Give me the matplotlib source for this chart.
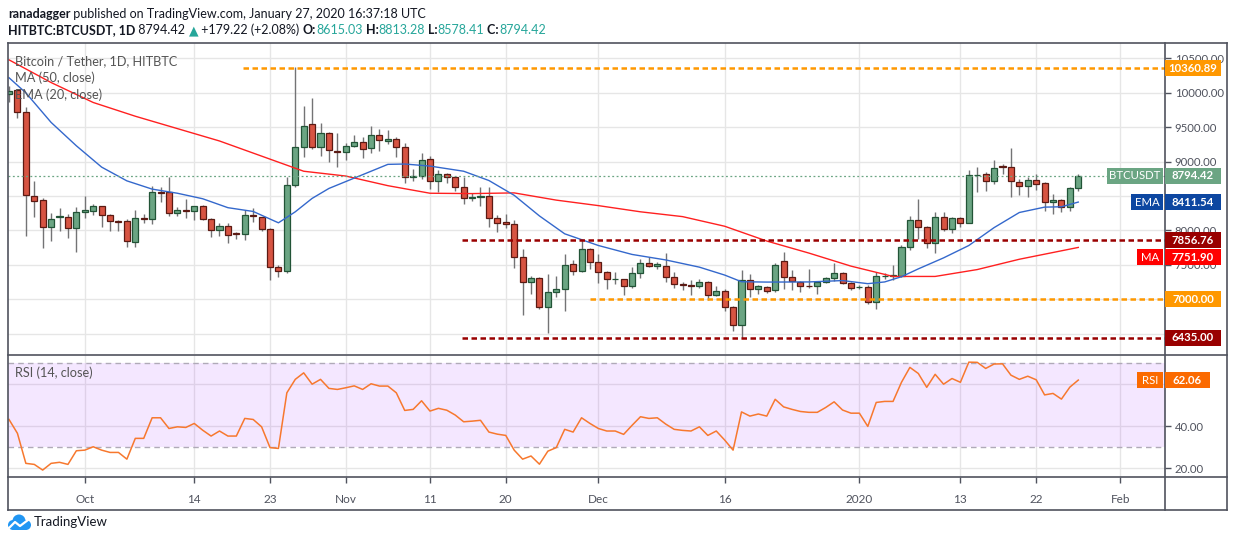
import matplotlib
import matplotlib.dates as mdates
import matplotlib.pyplot as plt
import matplotlib.transforms as mtransforms
import pandas as pd
from matplotlib.lines import Line2D
from matplotlib.patches import Circle, Rectangle

matplotlib.use("Agg")

W, H = 1234, 541
FONTS = ["Lato", "DejaVu Sans"]
plt.rcParams["font.family"] = FONTS

# ---- data --------------------------------------------------------------
dates = pd.date_range("2019-09-22", "2020-01-27", freq="D")

opens = [
    9990, 10036, 9715, 8500, 8445, 8050, 8190, 8200, 8040,
    8270, 8285, 8357, 8226, 8135, 8140, 7832, 8182, 8168, 8562,
    8562, 8255, 8290, 8285, 8357, 8168, 8007, 8066, 7955, 7949,
    8226, 8197, 8022, 7467, 7408, 8664, 9219, 9540, 9219, 9423, 9155,
    9146, 9234, 9292, 9204, 9394, 9306, 9336, 9219, 8781, 8796,
    9044, 8723, 8825, 8781, 8635, 8474, 8489, 8503, 8182, 8124,
    8095, 7613, 7248, 7307, 6883, 7102, 7146, 7511, 7409, 7730,
    7540, 7394, 7290, 7292, 7190, 7380, 7525, 7482, 7482, 7321,
    7219, 7204, 7190, 7248, 7058, 7117, 6883, 6620, 7277, 7146,
    7175, 7131, 7555, 7321, 7248, 7195, 7190, 7248, 7307, 7380, 7234,
    7170, 7180, 6956, 7330, 7340, 7336, 7759, 8153, 8051, 7818,
    8197, 8022, 8182, 8109, 8800, 8825, 8723, 8930, 8927, 8708,
    8650, 8737, 8693, 8416, 8445, 8343, 8615.03,
]
highs = [
    10095, 10060, 9800, 8720, 8475, 8255, 8330, 8240, 8345,
    8500, 8390, 8360, 8240, 8155, 8170, 8300, 8240, 8650, 8635,
    8780, 8345, 8460, 8360, 8372, 8182, 8110, 8110, 7978, 8300,
    8328, 8200, 8036, 7496, 8781, 10380, 9803, 9920, 9555, 9430, 9409,
    9277, 9380, 9365, 9525, 9467, 9453, 9365, 9277, 8898, 9131,
    9088, 8883, 8839, 8790, 8781, 8547, 8635, 8635, 8226, 8241,
    8153, 7730, 7336, 7321, 7365, 7336, 7657, 7569, 7861, 7745,
    7657, 7409, 7394, 7300, 7467, 7584, 7613, 7540, 7672, 7394,
    7248, 7277, 7292, 7260, 7190, 7146, 6900, 7423, 7365, 7204,
    7190, 7525, 7686, 7423, 7263, 7438, 7263, 7321, 7525, 7394, 7248,
    7204, 7204, 7394, 7380, 7496, 7788, 8212, 8460, 8060, 8270,
    8270, 8197, 8197, 8883, 8927, 8854, 9029, 8971, 9204, 8752,
    8781, 8825, 8700, 8533, 8460, 8635, 8813.28,
]
lows = [
    9860, 9640, 7920, 8200, 7745, 7850, 7995, 7890, 7690,
    8180, 8220, 8050, 7995, 7995, 7760, 7760, 8110, 8095, 8415,
    8210, 8210, 8180, 8155, 8150, 7905, 7920, 7818, 7876, 7862,
    8124, 7993, 7280, 7321, 7380, 8635, 9073, 9190, 9088, 9000, 8927,
    9029, 9219, 9058, 9131, 9161, 9263, 9073, 8693, 8723, 8752,
    8606, 8562, 8693, 8577, 8387, 8431, 8358, 8051, 7978, 8036,
    7453, 6766, 7073, 6854, 6504, 7029, 6825, 7350, 7400, 7438,
    7234, 7146, 7219, 7058, 7160, 7307, 7467, 7440, 7248, 7160,
    7131, 7058, 7160, 6985, 7044, 6825, 6533, 6431, 7029, 7073,
    7088, 7102, 7146, 7131, 7102, 7160, 7073, 7234, 7263, 7219, 7140,
    7150, 6927, 6854, 7292, 7277, 7321, 7715, 7876, 7745, 7672,
    7993, 7963, 8051, 8100, 8562, 8577, 8679, 8825, 8489, 8518,
    8489, 8591, 8285, 8241, 8270, 8285, 8578.41,
]
closes = [
    10030, 9715, 8520, 8430, 8050, 8170, 8210, 8040, 8270,
    8290, 8357, 8226, 8140, 8120, 7847, 8182, 8165, 8562, 8545,
    8255, 8300, 8275, 8357, 8168, 8007, 8066, 7934, 7945, 8226,
    8212, 8022, 7467, 7408, 8664, 9219, 9525, 9219, 9409, 9175, 9140,
    9234, 9292, 9190, 9394, 9321, 9336, 9219, 8781, 8796, 9029,
    8723, 8825, 8781, 8635, 8474, 8489, 8503, 8182, 8109, 8095,
    7613, 7248, 7307, 6883, 7102, 7146, 7496, 7409, 7730, 7540,
    7394, 7292, 7295, 7190, 7380, 7525, 7482, 7511, 7321, 7219,
    7204, 7190, 7248, 7058, 7117, 6883, 6620, 7277, 7146, 7190,
    7117, 7496, 7321, 7263, 7190, 7185, 7248, 7307, 7380, 7234, 7160,
    7180, 6956, 7336, 7340, 7350, 7759, 8153, 8051, 7818, 8197,
    8022, 8182, 8109, 8810, 8812, 8723, 8912, 8922, 8723, 8650,
    8737, 8679, 8416, 8445, 8343, 8615, 8794.42,
]
rsi = [
    43.3, 36.7, 22.4, 21.9, 19.2, 22.4, 22.9, 21.9, 28.4,
    28.7, 30.3, 28.7, 27.6, 27.6, 24.4, 34.3, 34.3, 44.1, 44.1,
    39.0, 39.8, 39.5, 41.4, 38.2, 35.4, 37.8, 35.4, 35.4, 43.8,
    43.3, 39.8, 29.9, 29.5, 56.0, 62.4, 65.5, 60.1, 62.4, 58.1, 57.6,
    58.4, 59.3, 57.6, 60.3, 59.2, 59.2, 56.0, 47.6, 48.1, 52.2,
    47.3, 48.6, 47.7, 45.4, 42.2, 42.5, 42.9, 37.3, 36.3, 35.7,
    28.7, 24.4, 25.9, 22.0, 28.2, 29.9, 38.6, 37.3, 44.1, 41.4,
    39.0, 37.8, 37.8, 36.2, 40.5, 44.6, 43.8, 44.1, 41.1, 38.6,
    38.1, 37.8, 39.8, 35.7, 37.8, 33.5, 28.7, 46.9, 44.9, 45.9,
    44.9, 52.9, 49.3, 48.1, 47.1, 46.7, 46.7, 49.0, 51.7, 47.8, 46.3,
    46.3, 40.0, 51.4, 51.9, 51.9, 61.0, 68.1, 65.2, 58.6, 64.8,
    60.1, 62.8, 61.0, 70.6, 70.5, 67.6, 69.7, 69.8, 64.4, 62.4,
    63.9, 62.2, 55.0, 55.7, 53.0, 58.7, 62.06,
]

ma50_days = ["2019-09-22", "2019-09-27", "2019-10-02", "2019-10-07", "2019-10-12",
             "2019-10-17", "2019-10-22", "2019-10-27", "2019-11-01", "2019-11-06",
             "2019-11-11", "2019-11-16", "2019-11-21", "2019-11-26", "2019-12-01",
             "2019-12-06", "2019-12-11", "2019-12-16", "2019-12-21", "2019-12-26",
             "2019-12-31", "2020-01-05", "2020-01-10", "2020-01-15", "2020-01-20",
             "2020-01-27"]
ma50_vals = [10480, 10150, 9860, 9660, 9480, 9300, 9080, 8860, 8790, 8650,
             8540, 8535, 8545, 8440, 8360, 8270, 8200, 8060, 7845, 7670,
             7480, 7330, 7330, 7430, 7580, 7751.90]

ema20_days = ["2019-09-22", "2019-09-24", "2019-09-27", "2019-09-30", "2019-10-03",
              "2019-10-06", "2019-10-09", "2019-10-12", "2019-10-15", "2019-10-18",
              "2019-10-21", "2019-10-24", "2019-10-26", "2019-10-28", "2019-10-30",
              "2019-11-02", "2019-11-06", "2019-11-08", "2019-11-11", "2019-11-15",
              "2019-11-18", "2019-11-21", "2019-11-24", "2019-11-27", "2019-12-01",
              "2019-12-05", "2019-12-09", "2019-12-13", "2019-12-16", "2019-12-18",
              "2019-12-21", "2019-12-26", "2019-12-30", "2020-01-02", "2020-01-04",
              "2020-01-06", "2020-01-08", "2020-01-11", "2020-01-14", "2020-01-17",
              "2020-01-20", "2020-01-23", "2020-01-25", "2020-01-27"]
ema20_vals = [10220, 10000, 9570, 9230, 8920, 8720, 8600, 8540, 8460, 8330,
              8275, 8110, 8270, 8465, 8610, 8760, 8960, 8965, 8935, 8860,
              8725, 8510, 8210, 7950, 7780, 7650, 7570, 7465, 7350, 7253,
              7248, 7250, 7270, 7225, 7250, 7326, 7440, 7600, 7780, 8040,
              8260, 8338, 8343, 8411.54]

# horizontal levels: value, first day drawn, colour
levels = [
    (10360.89, "2019-10-19 19:00", "#ff9800"),
    (7856.76, "2019-11-14 19:00", "#990000"),
    (7000.00, "2019-11-29 23:00", "#ff9800"),
    (6435.00, "2019-11-14 19:00", "#990000"),
]

tick_dates = ["2019-10-01", "2019-10-14", "2019-10-23", "2019-11-01", "2019-11-11",
              "2019-11-20", "2019-12-01", "2019-12-16", "2020-01-01", "2020-01-13",
              "2020-01-22", "2020-02-01"]
tick_labels = ["Oct", "14", "23", "Nov", "11", "20", "Dec", "16", "2020", "13", "22", "Feb"]
price_ticks = [6500, 7000, 7500, 8000, 8500, 9000, 9500, 10000, 10500]
price_hidden = [6500, 7000, 8500]  # sit fully under the price tags
rsi_ticks = [20, 40, 60]
rsi_hidden = [60]

# ---- styling ------------------------------------------------------------
FRAME = "#50535e"
GRID = "#e6e6e6"
AXTXT = "#50535e"
UP, UP_EDGE = "#6ba583", "#225437"
DOWN, DOWN_EDGE = "#d75442", "#5b1a13"
WICK = "#737375"

fig = plt.figure(figsize=(W / 100, H / 100), dpi=100)
fig.patch.set_facecolor("white")


def add_px_axes(left, top, right, bottom):
    return fig.add_axes([left / W, 1 - bottom / H, (right - left) / W, (bottom - top) / H])


def frame_line(x0, y0, x1, y1, lw=1.2):
    fig.add_artist(Line2D([x0 / W, x1 / W], [1 - y0 / H, 1 - y1 / H],
                          transform=fig.transFigure, color=FRAME, lw=lw))


def anchor(a, xa, yd):
    # pixel offsets measured from (axes-x, data-y)
    blend = mtransforms.blended_transform_factory(a.transAxes, a.transData)
    return mtransforms.Affine2D() + mtransforms.ScaledTranslation(xa, yd, blend)


def tag(a, value, text, color, left, width, bold=True, dy=0, height=16):
    t = anchor(a, 1.0, value)
    fig.add_artist(Rectangle((left, dy - height / 2), width, height, transform=t,
                             facecolor=color, edgecolor="none", zorder=20))
    fig.text(left + width / 2, dy, text, transform=t, ha="center", va="center",
             color="white", fontsize=8.2, fontweight="bold" if bold else "normal", zorder=21)


ax = add_px_axes(8, 43, 1165, 354)
ax_rsi = add_px_axes(8, 355, 1165, 477)

xnum = mdates.date2num(dates)
tick_x = mdates.date2num(pd.to_datetime(tick_dates))
for a in (ax, ax_rsi):
    a.set_xlim(xnum[0] - 0.12, xnum[0] + 137.3)
    for s in a.spines.values():
        s.set_visible(False)
    a.set_axisbelow(True)
    a.set_xticks(tick_x)
    a.grid(True, color=GRID, lw=1)
    a.yaxis.tick_right()
    a.tick_params(axis="y", direction="out", length=4, width=1, color=FRAME,
                  labelsize=8.2, labelcolor=AXTXT, pad=3)

ax.tick_params(axis="x", length=0, labelbottom=False)
ax_rsi.set_xticklabels(tick_labels)
ax_rsi.tick_params(axis="x", direction="out", length=4, width=1, color=FRAME,
                   labelsize=8.5, labelcolor=AXTXT, pad=8)

# ---- price pane ---------------------------------------------------------
ax.set_ylim(6202, 10725)
ax.set_yticks(price_ticks)
ax.set_yticklabels(["" if v in price_hidden else f"{v:.2f}" for v in price_ticks])

body_lo = [min(o, c) for o, c in zip(opens, closes)]
body_h = [max(abs(c - o), 8) for o, c in zip(opens, closes)]
is_up = [c >= o for o, c in zip(opens, closes)]
ax.vlines(xnum, lows, highs, color=WICK, lw=1, zorder=2)
ax.bar(xnum, body_h, bottom=body_lo, width=0.72,
       color=[UP if u else DOWN for u in is_up],
       edgecolor=[UP_EDGE if u else DOWN_EDGE for u in is_up], lw=0.9, zorder=3)

ax.plot(mdates.date2num(pd.to_datetime(ma50_days)), ma50_vals, color="#ff2020", lw=1.0, zorder=4)
ax.plot(mdates.date2num(pd.to_datetime(ema20_days)), ema20_vals, color="#3468cc", lw=1.0, zorder=4)

xmax = ax.get_xlim()[1]
for val, start, col in levels:
    ax.plot([mdates.date2num(pd.Timestamp(start)), xmax], [val, val], color=col,
            lw=1.8, dashes=(2.2, 1.4), zorder=5, solid_capstyle="butt")
ax.axhline(closes[-1], color=UP, lw=0.9, dashes=(1.5, 2), zorder=5)

fig.text(15 / W, 1 - 61 / H, "Bitcoin / Tether, 1D, HITBTC", color="#555555", fontsize=9.2, va="center")
fig.text(15 / W, 1 - 78 / H, "MA (50, close)", color="#555555", fontsize=9.2, va="center")
fig.text(15 / W, 1 - 95 / H, "EMA (20, close)", color="#555555", fontsize=9.2, va="center")

for val, start, col in levels:
    tag(ax, val, f"{val:.2f}", col, 0, 56)
tag(ax, closes[-1], f"{closes[-1]:.2f}", UP, 0, 56)
tag(ax, closes[-1], "BTCUSDT", UP, -58, 56, bold=False)
tag(ax, ema20_vals[-1], f"{ema20_vals[-1]:.2f}", "#0d47a1", 0, 56)
tag(ax, ema20_vals[-1], "EMA", "#0d47a1", -34, 32, bold=False)
# the MA tag is pushed down so it clears the 7856.76 tag, as on the chart
tag(ax, ma50_vals[-1], f"{ma50_vals[-1]:.2f}", "#ff0000", 0, 56, dy=-10)
tag(ax, ma50_vals[-1], "MA", "#ff0000", -28, 26, bold=False, dy=-10)

# ---- RSI pane -----------------------------------------------------------
ax_rsi.set_ylim(15.9, 74.0)
ax_rsi.set_yticks(rsi_ticks)
ax_rsi.set_yticklabels(["" if v in rsi_hidden else f"{v:.2f}" for v in rsi_ticks])
ax_rsi.axhspan(30, 70, facecolor="#9915ff", alpha=0.1, lw=0, zorder=1)
for lvl in (30, 70):
    ax_rsi.axhline(lvl, color="#b0aab8", lw=1, dashes=(4, 3), zorder=2)
ax_rsi.plot(xnum, rsi, color="#f7782e", lw=1.1, zorder=4)
fig.text(15 / W, 1 - 373 / H, "RSI (14, close)", color="#555555", fontsize=9.2, va="center")
tag(ax_rsi, rsi[-1], f"{rsi[-1]:.2f}", "#fb6a00", 0, 45)
tag(ax_rsi, rsi[-1], "RSI", "#fb6a00", -28, 26, bold=False)

# ---- frame --------------------------------------------------------------
frame_line(8, 43, 1227, 43)
frame_line(8, 510, 1227, 510)
frame_line(8, 43, 8, 510)
frame_line(1227, 43, 1227, 510)
frame_line(1165, 43, 1165, 510)
frame_line(8, 354.5, 1227, 354.5)
frame_line(8, 477, 1227, 477)

# ---- header -------------------------------------------------------------
renderer = fig.canvas.get_renderer()


def draw_runs(x_px, y_px, runs, size):
    x = x_px
    for text, weight, color in runs:
        t = fig.text(x / W, 1 - y_px / H, text, fontsize=size, fontweight=weight,
                     color=color, va="baseline", ha="left")
        x += t.get_window_extent(renderer).width


INK, TEAL = "#131722", "#26a69a"
draw_runs(8, 18, [("ranadagger", "bold", INK),
                  (" published on TradingView.com, January 27, 2020 16:37:18 UTC", "normal", INK)], 9)
draw_runs(8, 34, [("HITBTC:BTCUSDT, 1D", "bold", INK), (" 8794.42 ", "normal", INK),
                  ("\u25b2", "normal", TEAL), (" +179.22 (+2.08%) ", "normal", INK),
                  ("O:", "bold", INK), ("8615.03", "normal", TEAL),
                  (" H:", "bold", INK), ("8813.28", "normal", TEAL),
                  (" L:", "bold", INK), ("8578.41", "normal", TEAL),
                  (" C:", "bold", INK), ("8794.42", "normal", TEAL)], 9)

# ---- TradingView logo ---------------------------------------------------
lax = add_px_axes(6, 512, 32, 532)
lax.set_xlim(0, 26)
lax.set_ylim(20, 0)
lax.axis("off")
for cx, cy, r in [(7, 13, 5), (13, 9, 6.5), (20, 13, 5)]:
    lax.add_patch(Circle((cx, cy), r, color="#2196f3", lw=0))
lax.add_patch(Rectangle((7, 12), 13, 6, color="#2196f3", lw=0))
lax.plot([3, 9, 14, 22], [16, 10, 14, 8], color="white", lw=1.6)
fig.text(34 / W, 1 - 522 / H, "TradingView", color=INK, fontsize=9.5, va="center")

fig.savefig("out.png", dpi=100, facecolor="white")
